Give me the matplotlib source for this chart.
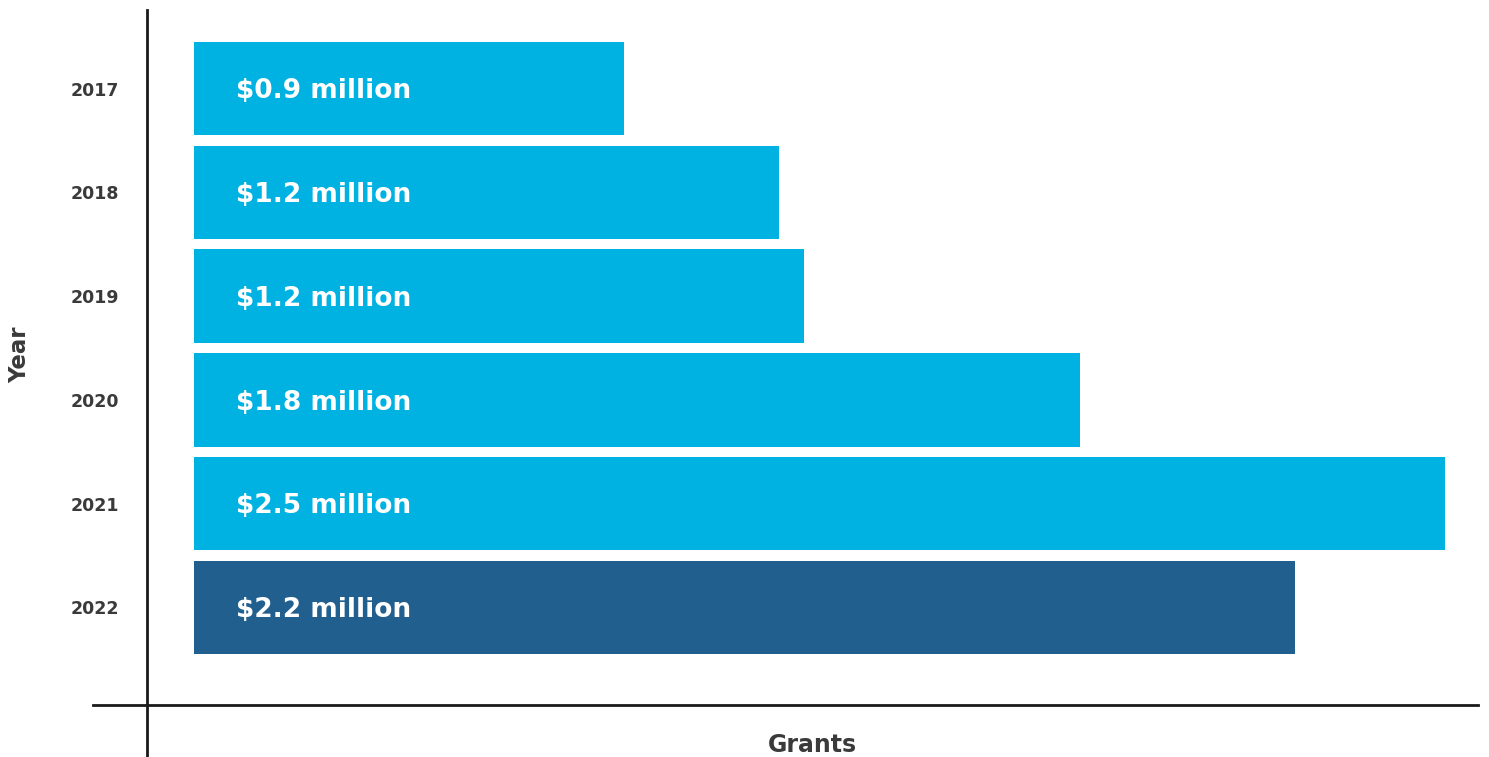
import matplotlib
matplotlib.use("Agg")
import matplotlib.pyplot as plt

years = ["2017", "2018", "2019", "2020", "2021", "2022"]
grants = [0.86, 1.17, 1.22, 1.77, 2.5, 2.2]
labels = ["$0.9 million", "$1.2 million", "$1.2 million", "$1.8 million", "$2.5 million", "$2.2 million"]
colors = ["#00B2E2", "#00B2E2", "#00B2E2", "#00B2E2", "#00B2E2", "#215F8F"]

plt.rcParams['font.family'] = ['DejaVu Sans']
W, H = 1489, 757
fig = plt.figure(figsize=(W / 100, H / 100), dpi=100)
ax = fig.add_axes([93 / W, 0, (1478 - 93) / W, (757 - 10) / H])

ypos = list(range(len(years)))
ax.barh(ypos, grants, height=0.9, color=colors, edgecolor='none')
for y, v, lab in zip(ypos, grants, labels):
    ax.annotate(lab, xy=(0, y), xytext=(30, -2), textcoords='offset points',
                ha='left', va='center', color='white', fontsize=19, fontweight='bold')

px = 500.4
ax.set_xlim((93 - 194) / px, (1478 - 194) / px)
ax.set_ylim((757 - 88.5) / 103.8, (10 - 88.5) / 103.8)

ax.spines['top'].set_visible(False)
ax.spines['right'].set_visible(False)
ax.spines['left'].set_position(('data', (147 - 194) / px))
ax.spines['bottom'].set_position(('data', (705 - 88.5) / 103.8))
for s in ('left', 'bottom'):
    ax.spines[s].set_linewidth(2)
    ax.spines[s].set_color('#1a1a1a')

ax.set_xticks([])
ax.set_yticks(ypos)
ax.set_yticklabels(years, fontsize=12.5, fontweight='bold', color='#3a3a3a')
ax.tick_params(axis='y', length=0, pad=20)

fig.text(20 / W, 1 - 355 / H, "Year", rotation=90, ha='center', va='center',
         fontsize=16.5, fontweight='bold', color='#3a3a3a')
fig.text(812 / W, 1 - 745 / H, "Grants", ha='center', va='center',
         fontsize=17, fontweight='bold', color='#3a3a3a')

fig.savefig("out.png", dpi=100)
